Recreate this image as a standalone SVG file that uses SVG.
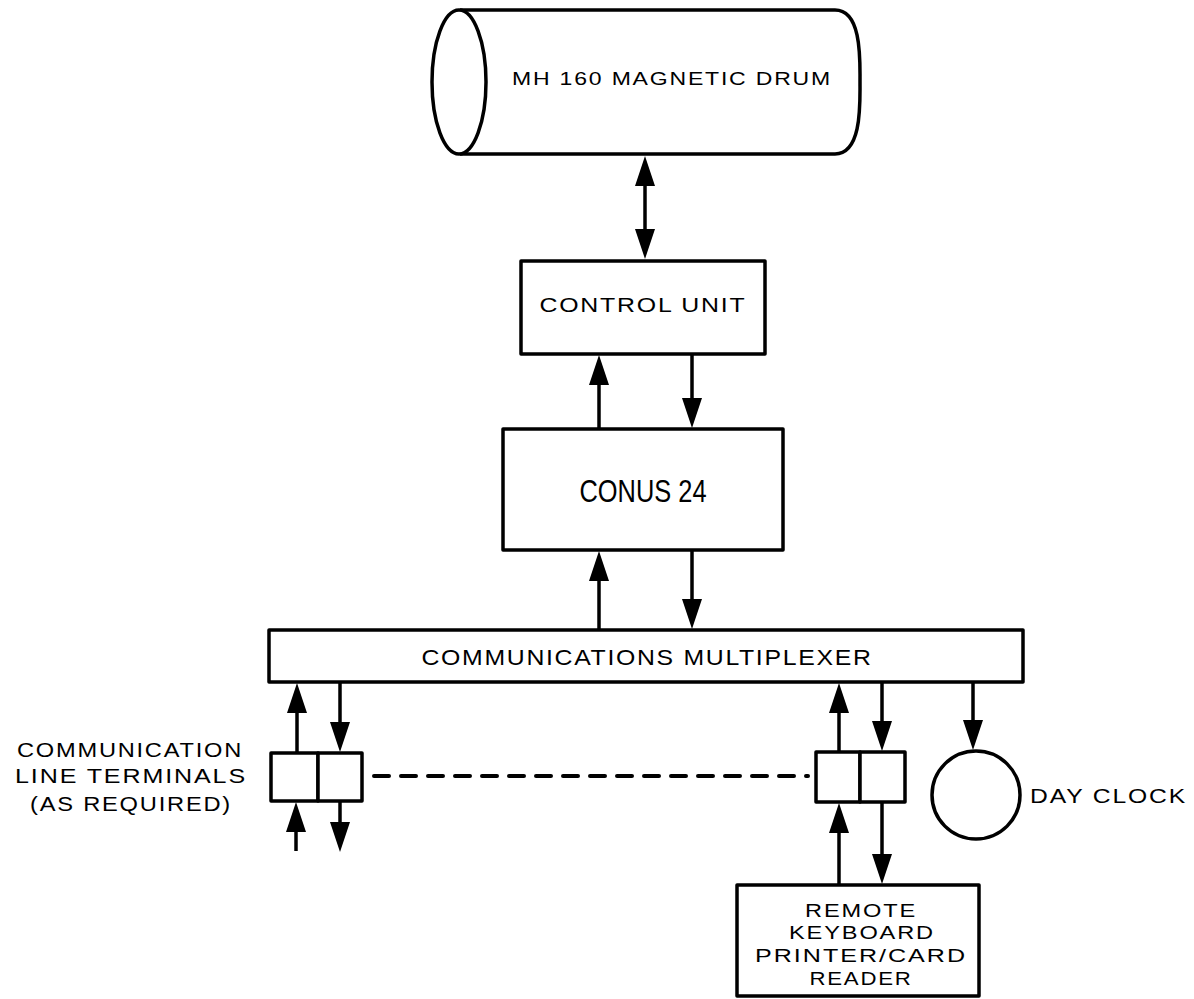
<svg xmlns="http://www.w3.org/2000/svg" width="1194" height="999" viewBox="0 0 1194 999">
<style>
.box{fill:#fff;stroke:#000;stroke-width:3.5;stroke-linejoin:round}
.ln{fill:none;stroke:#000;stroke-width:3.5}
.t{font-family:"Liberation Sans",Arial,sans-serif;fill:#000;text-anchor:middle;letter-spacing:1.5px}
.s{font-size:20px}
.r{font-size:19px}
.dash{fill:none;stroke:#000;stroke-width:4;stroke-dasharray:15 12;stroke-linecap:round}
</style>
<defs>
<marker id="ah" viewBox="0 0 30 20" markerWidth="30" markerHeight="20" refX="22" refY="10" orient="auto-start-reverse" markerUnits="userSpaceOnUse">
<path d="M0,0 L30,10 L0,20 z" fill="#000"/>
</marker>
</defs>
<rect width="1194" height="999" fill="#fff"/>
<g id="drum">
<path class="box" d="M460,10 L835,10 C862,10 860,60 860,82 C860,104 862,154 835,154 L460,154"/>
<ellipse class="box" cx="459" cy="82" rx="27" ry="72"/>
<text class="t" font-size="19" x="672" y="85" textLength="320" lengthAdjust="spacingAndGlyphs">MH 160 MAGNETIC DRUM</text>
</g>
<g id="control">
<rect class="box" x="521" y="261" width="244" height="93"/>
<text class="t" font-size="21" x="643" y="312" textLength="207" lengthAdjust="spacingAndGlyphs">CONTROL UNIT</text>
</g>
<g id="conus">
<rect class="box" x="503" y="429" width="280" height="121"/>
<text class="t" font-size="32" style="letter-spacing:0" x="643" y="502" textLength="127" lengthAdjust="spacingAndGlyphs">CONUS 24</text>
</g>
<g id="multiplexer">
<rect class="box" x="269" y="630" width="754" height="52"/>
<text class="t" font-size="22" x="647" y="665" textLength="451" lengthAdjust="spacingAndGlyphs">COMMUNICATIONS MULTIPLEXER</text>
</g>
<g id="terminals-left">
<rect class="box" x="271" y="753" width="47" height="48"/>
<rect class="box" x="318" y="753" width="44" height="48"/>
<text class="t s" x="130" y="757" textLength="226" lengthAdjust="spacingAndGlyphs">COMMUNICATION</text>
<text class="t s" x="131" y="783" textLength="232" lengthAdjust="spacingAndGlyphs">LINE TERMINALS</text>
<text class="t s" x="131" y="811" textLength="202" lengthAdjust="spacingAndGlyphs">(AS REQUIRED)</text>
</g>
<g id="terminals-right">
<rect class="box" x="816" y="752" width="44" height="50"/>
<rect class="box" x="860" y="752" width="45" height="50"/>
</g>
<g id="dayclock">
<circle class="box" cx="976" cy="795" r="44"/>
<text class="t s" x="1030" y="803" style="text-anchor:start" textLength="157" lengthAdjust="spacingAndGlyphs">DAY CLOCK</text>
</g>
<g id="remote">
<rect class="box" x="737" y="885" width="242" height="111"/>
<text class="t r" x="861" y="917" textLength="112" lengthAdjust="spacingAndGlyphs">REMOTE</text>
<text class="t r" x="862" y="939" textLength="146" lengthAdjust="spacingAndGlyphs">KEYBOARD</text>
<text class="t r" x="861" y="962" textLength="212" lengthAdjust="spacingAndGlyphs">PRINTER/CARD</text>
<text class="t r" x="861" y="985" textLength="103" lengthAdjust="spacingAndGlyphs">READER</text>
</g>
<g id="connectors">
<line class="ln" x1="645" y1="164" x2="645" y2="251" marker-start="url(#ah)" marker-end="url(#ah)"/>
<line class="ln" x1="599" y1="429" x2="599" y2="363" marker-end="url(#ah)"/>
<line class="ln" x1="692" y1="354" x2="692" y2="420" marker-end="url(#ah)"/>
<line class="ln" x1="599" y1="630" x2="599" y2="559" marker-end="url(#ah)"/>
<line class="ln" x1="692" y1="550" x2="692" y2="621" marker-end="url(#ah)"/>
<line class="ln" x1="297" y1="753" x2="297" y2="691" marker-end="url(#ah)"/>
<line class="ln" x1="340" y1="682" x2="340" y2="744" marker-end="url(#ah)"/>
<line class="ln" x1="296" y1="851" x2="296" y2="810" marker-end="url(#ah)"/>
<line class="ln" x1="340" y1="801" x2="340" y2="844" marker-end="url(#ah)"/>
<line class="ln" x1="839" y1="752" x2="839" y2="691" marker-end="url(#ah)"/>
<line class="ln" x1="882" y1="682" x2="882" y2="743" marker-end="url(#ah)"/>
<line class="ln" x1="973" y1="682" x2="973" y2="742" marker-end="url(#ah)"/>
<line class="ln" x1="839" y1="885" x2="839" y2="811" marker-end="url(#ah)"/>
<line class="ln" x1="882" y1="802" x2="882" y2="876" marker-end="url(#ah)"/>
<line class="dash" x1="374" y1="776" x2="808" y2="776"/>
</g>
</svg>
